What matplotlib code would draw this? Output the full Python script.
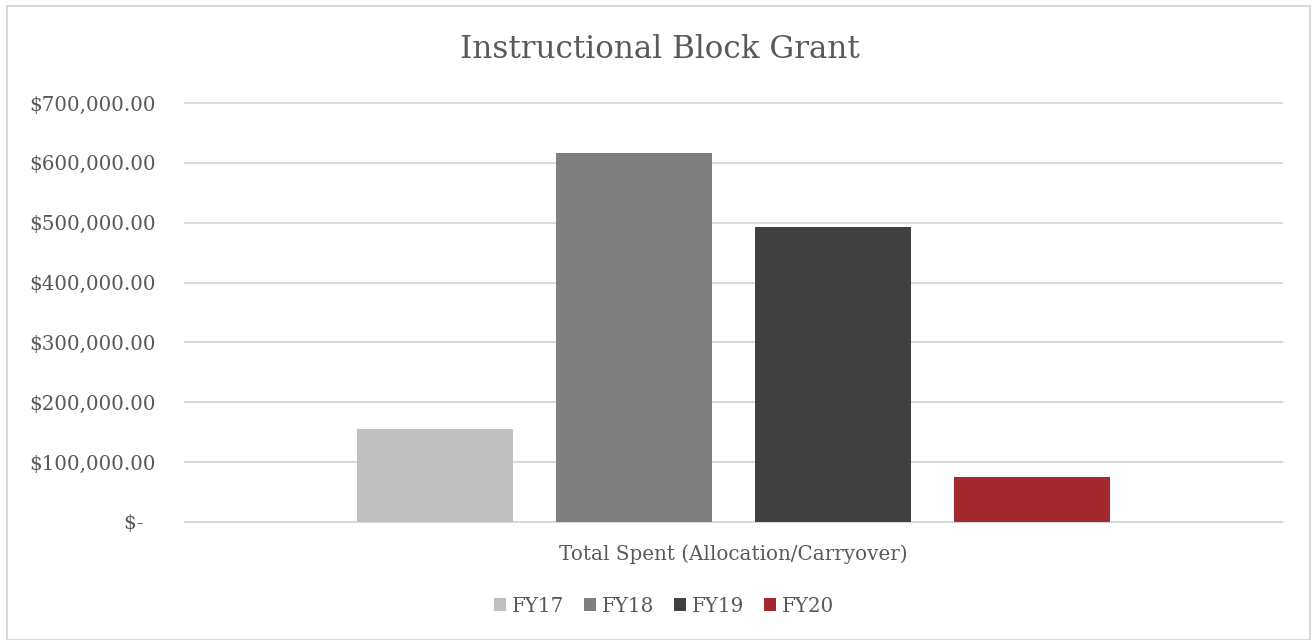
import numpy as np
import matplotlib
matplotlib.use("Agg")
import matplotlib.pyplot as plt
from matplotlib.patches import Rectangle
from matplotlib.ticker import FuncFormatter

category = "Total Spent (Allocation/Carryover)"
series = ["FY17", "FY18", "FY19", "FY20"]
values = [155000, 616000, 493000, 75000]
colors = ["#BFBFBF", "#7F7F7F", "#404040", "#A3292E"]
yticks = [0, 100000, 200000, 300000, 400000, 500000, 600000, 700000]

plt.rcParams['font.family'] = ['DejaVu Serif']
txt = "#595959"
fs = 14.3

fig = plt.figure(figsize=(13.12, 6.4), dpi=100)
fig.patches.append(Rectangle((7/1312, 0), 1303/1312, 634/640, transform=fig.transFigure,
                             fill=False, edgecolor="#D9D9D9", linewidth=1.5))
ax = fig.add_axes([185/1312, 1-522/640, 1097/1312, 419/640])

w = 0.1431
step = 0.1814
for i, (s, v, c) in enumerate(zip(series, values, colors)):
    ax.bar((i - 1.5) * step, v, width=w, color=c, label=s, zorder=3)

ax.set_xlim(-0.5, 0.5)
ax.set_ylim(0, 700000)
ax.set_yticks(yticks)


def fmt(v, pos):
    if v == 0:
        return "$-  "
    return "${:,.2f}".format(v)


ax.yaxis.set_major_formatter(FuncFormatter(fmt))
ax.grid(axis="y", color="#D9D9D9", linewidth=1.5, zorder=0)
for gl in ax.yaxis.get_gridlines():
    gl.set_clip_on(False)
for sp in ax.spines.values():
    sp.set_visible(False)
ax.tick_params(axis="y", length=0, pad=21, labelsize=fs, labelcolor=txt)
ax.set_xticks([0])
ax.set_xticklabels([category])
ax.tick_params(axis="x", length=0, pad=16, labelsize=fs, labelcolor=txt)

fig.text(0.503, 1-49/640, "Instructional Block Grant", ha="center", va="center",
         fontsize=22.3, color=txt)

leg = fig.legend(loc="center", bbox_to_anchor=(664/1312, 1-606/640), ncol=4, frameon=False,
                 fontsize=fs, handlelength=0.6, handleheight=0.6, handletextpad=0.3,
                 columnspacing=1.0, labelcolor=txt)

fig.savefig("out.png", dpi=100)
